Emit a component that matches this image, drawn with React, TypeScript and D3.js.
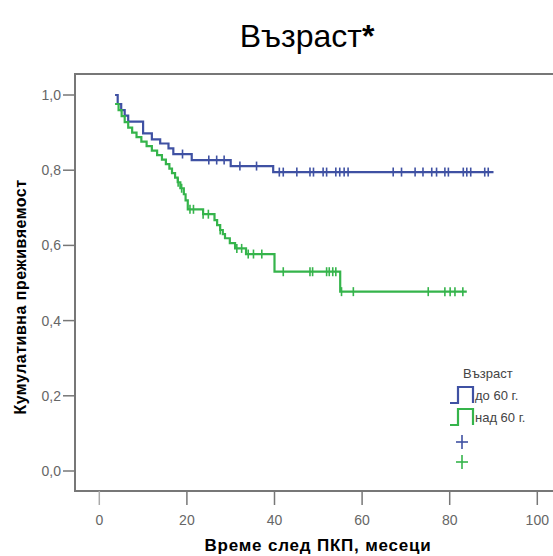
import React from "react";
import * as d3 from "d3";

// Blue group "до 60 г." : step times and survival values after each step
const blueTimes = [3.6, 4.2, 5.0, 5.8, 6.6, 10.0, 12.0, 13.9, 15.8, 16.9, 21.1, 30.0, 39.7];
const blueValues = [1.0, 0.976, 0.96, 0.945, 0.929, 0.898, 0.882, 0.871, 0.858, 0.843, 0.827, 0.811, 0.795];
const blueEnd = 90;
const blueCensored = [19.0, 25.0, 26.8, 28.5, 32.1, 35.9, 41.1, 42.0, 45.1, 48.1, 48.9, 51.1, 51.9, 54.0, 54.9, 55.9, 56.8, 67.1, 69.0, 72.1, 73.9, 75.9, 77.0, 78.9, 79.7, 83.1, 83.9, 84.8, 88.0, 88.8];

// Green group "над 60 г."
const greenTimes = [3.6, 4.4, 5.1, 5.8, 6.6, 7.5, 8.5, 9.6, 10.8, 12.0, 13.2, 14.3, 15.2, 16.0, 16.6, 17.3, 17.9, 18.5, 19.3, 19.7, 20.2, 23.7, 26.3, 26.9, 27.6, 28.2, 28.7, 29.8, 31.0, 33.5, 40.0, 55.0];
const greenValues = [0.976, 0.96, 0.944, 0.928, 0.913, 0.9, 0.888, 0.876, 0.864, 0.852, 0.84, 0.828, 0.816, 0.804, 0.792, 0.78, 0.768, 0.752, 0.736, 0.72, 0.696, 0.683, 0.667, 0.654, 0.641, 0.63, 0.619, 0.606, 0.592, 0.577, 0.53, 0.477];
const greenEnd = 83.9;
const greenCensored = [18.0, 18.8, 20.7, 21.5, 23.7, 24.9, 27.6, 31.4, 32.5, 34.0, 35.2, 37.1, 42.0, 48.1, 48.7, 51.9, 52.5, 53.3, 54.0, 55.3, 58.0, 75.1, 78.9, 80.1, 81.2, 83.0];

const xTicks = [0, 20, 40, 60, 80, 100];
const xTickLabels = ["0", "20", "40", "60", "80", "100"];
const yTicks = [0, 0.2, 0.4, 0.6, 0.8, 1.0];
const yTickLabels = ["0,0", "0,2", "0,4", "0,6", "0,8", "1,0"];

const seriesNames = ["до 60 г.", "над 60 г."];
const BLUE = "#3f51a3";
const GREEN = "#35b44b";
const AXIS = "#777";
const FONT = "Arial, 'Liberation Sans', sans-serif";

const x = d3.scaleLinear().domain([0, 100]).range([99.3, 537.3]);
const y = d3.scaleLinear().domain([0, 1]).range([471, 95]);

function stepPoints(times: number[], values: number[], end: number): [number, number][] {
  const pts: [number, number][] = times.map((t, i) => [t, values[i]]);
  pts.push([end, values[values.length - 1]]);
  return pts;
}

function valueAt(times: number[], values: number[], t: number): number {
  let v = values[0];
  for (let i = 0; i < times.length; i++) {
    if (times[i] <= t) v = values[i];
  }
  return v;
}

const line = d3
  .line<[number, number]>()
  .x((d) => x(d[0]))
  .y((d) => y(d[1]))
  .curve(d3.curveStepAfter);

export default function App() {
  const series = [
    { times: blueTimes, values: blueValues, end: blueEnd, cens: blueCensored, color: BLUE },
    { times: greenTimes, values: greenValues, end: greenEnd, cens: greenCensored, color: GREEN },
  ];
  const legendX = 450;
  const legendColors = [BLUE, GREEN];
  return (
    <svg
      width={553}
      height={556}
      style={{ position: "absolute", left: 0, top: 0, background: "#fff" }}
      fontFamily={FONT}
    >
      <rect x={0} y={0} width={553} height={556} fill="#fff" />
      <text x={307} y={47} textAnchor="middle" fontSize={32} fill="#000">
        Възраст<tspan fontWeight="bold">*</tspan>
      </text>

      {/* frame */}
      <line x1={75} y1={74} x2={553} y2={74} stroke={AXIS} strokeWidth={2} />
      <line x1={75} y1={491} x2={553} y2={491} stroke={AXIS} strokeWidth={2} />
      <line x1={75} y1={73} x2={75} y2={492} stroke={AXIS} strokeWidth={2} />

      {/* y ticks */}
      {yTicks.map((v, i) => (
        <g key={"y" + i}>
          <line x1={63} y1={y(v)} x2={75} y2={y(v)} stroke={AXIS} strokeWidth={1.5} />
          <text x={61} y={y(v) + 5} textAnchor="end" fontSize={14} fill="#666">
            {yTickLabels[i]}
          </text>
        </g>
      ))}
      {/* x ticks */}
      {xTicks.map((t, i) => (
        <g key={"x" + i}>
          <line x1={x(t)} y1={491} x2={x(t)} y2={505} stroke={i === 0 ? "#aaa" : AXIS} strokeWidth={1.5} />
          <text x={x(t)} y={525} textAnchor="middle" fontSize={14} fill="#666">
            {xTickLabels[i]}
          </text>
        </g>
      ))}

      <text
        transform={`translate(26,297) rotate(-90)`}
        textAnchor="middle"
        fontSize={16}
        fontWeight="bold"
        letterSpacing={0.5}
        fill="#000"
      >
        Кумулативна преживяемост
      </text>
      <text
        x={318}
        y={551}
        textAnchor="middle"
        fontSize={17}
        fontWeight="bold"
        letterSpacing={0.8}
        fill="#000"
      >
        Време след ПКП, месеци
      </text>

      {/* curves */}
      {series.map((s, si) => (
        <g key={"s" + si}>
          <path
            d={line(stepPoints(s.times, s.values, s.end)) || ""}
            fill="none"
            stroke={s.color}
            strokeWidth={2.2}
          />
          {s.cens.map((t, ci) => {
            const v = valueAt(s.times, s.values, t);
            return (
              <line
                key={ci}
                x1={x(t)}
                x2={x(t)}
                y1={y(v) - 4.5}
                y2={y(v) + 4.5}
                stroke={s.color}
                strokeWidth={1.6}
              />
            );
          })}
        </g>
      ))}

      {/* legend */}
      <text x={463} y={378} fontSize={13} fill="#444">
        Възраст
      </text>
      {seriesNames.map((name, i) => {
        const base = 403 + i * 22;
        return (
          <g key={"l" + i}>
            <path
              d={`M${legendX},${base} H${legendX + 8} V${base - 16} H${legendX + 23} V${base}`}
              fill="none"
              stroke={legendColors[i]}
              strokeWidth={2.2}
            />
            <text x={legendX + 25} y={base - 3} fontSize={13} fill="#444">
              {name}
            </text>
          </g>
        );
      })}
      {legendColors.map((c, i) => {
        const cy = 442 + i * 20;
        const cx = 462;
        return (
          <g key={"p" + i}>
            <line x1={cx - 6} x2={cx + 6} y1={cy} y2={cy} stroke={c} strokeWidth={1.6} />
            <line x1={cx} x2={cx} y1={cy - 7} y2={cy + 7} stroke={c} strokeWidth={1.6} />
          </g>
        );
      })}
    </svg>
  );
}
